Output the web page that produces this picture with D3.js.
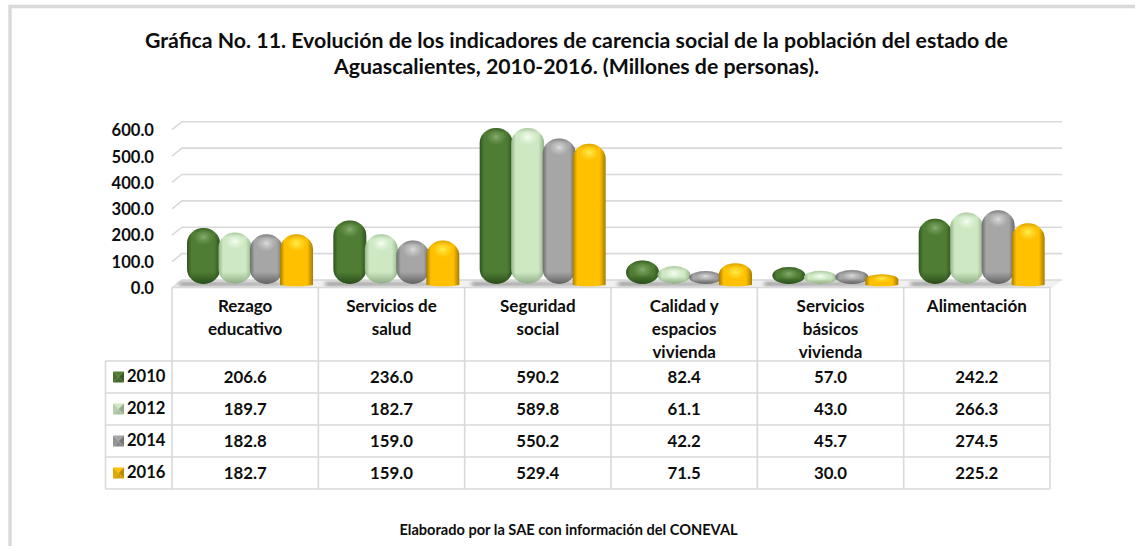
<!DOCTYPE html>
<html><head><meta charset="utf-8">
<script src="https://cdnjs.cloudflare.com/ajax/libs/d3/7.8.5/d3.min.js"></script>
<style>html,body{margin:0;padding:0;background:#fff}svg{display:block}text{font-family:Lato,"Open Sans",sans-serif;font-weight:700;fill:#0d0d0d}</style>
</head><body><div id="c"></div>
<script>
const titleLines = ["Gráfica No. 11. Evolución de los indicadores de carencia social de la población del estado de","Aguascalientes, 2010-2016. (Millones de personas)."];
const footer = "Elaborado por la SAE con información del CONEVAL";
const categories = [["Rezago","educativo"],["Servicios de","salud"],["Seguridad","social"],["Calidad y","espacios","vivienda"],["Servicios","básicos","vivienda"],["Alimentación"]];
const years = ["2010","2012","2014","2016"];
const v2010 = [206.6,236.0,590.2,82.4,57.0,242.2];
const v2012 = [189.7,182.7,589.8,61.1,43.0,266.3];
const v2014 = [182.8,159.0,550.2,42.2,45.7,274.5];
const v2016 = [182.7,159.0,529.4,71.5,30.0,225.2];
const seriesValues = [v2010,v2012,v2014,v2016];
const yTicks = [0,100,200,300,400,500,600];
const palette = [
 {edge:"#2f5521",mid:"#4f7d33",hi:"#86ae70",dark:"#274a1b"},
 {edge:"#95b48b",mid:"#cde8c2",hi:"#f6fff2",dark:"#8aa881"},
 {edge:"#6c6c6c",mid:"#a6a6a6",hi:"#dcdcdc",dark:"#5e5e5e"},
 {edge:"#a67c00",mid:"#ffc000",hi:"#fff050",dark:"#b88a00"}];

const W=1135,H=546;
const svg=d3.select("#c").append("svg").attr("width",W).attr("height",H);
const defs=svg.append("defs");
const grid="#d9d9d9";

// frame
svg.append("path").attr("d","M10,546V6.5H1135").attr("fill","none").attr("stroke",grid).attr("stroke-width",3.4);

// title
svg.append("g").selectAll("text").data(titleLines).join("text")
 .attr("x",576.5).attr("y",(d,i)=>47.5+i*26).attr("text-anchor","middle").attr("font-size",21.3).text(d=>d);

// scales
const tableX=d3.scaleBand().domain(d3.range(categories.length)).range([172,1050]);
const barX=d3.scaleBand().domain(d3.range(categories.length)).range([177,1055]);
const inner=d3.scaleBand().domain(years).range([10,136]);
const yBar=d3.scaleLinear().domain([0,600]).range([282,125.4]);
const yGrid=d3.scaleLinear().domain([0,600]).range([280,121.7]);
const yLabel=d3.scaleLinear().domain([0,600]).range([288,130.5]);
const depthX=10,depthY=8;

// floor
svg.append("path").attr("d",`M172,${yGrid(0)+depthY}L182,${yGrid(0)}H1062L1052,${yGrid(0)+depthY}Z`).attr("fill","#f1f1f1");
defs.append("filter").attr("id","blur").attr("x","-20%").attr("y","-100%").attr("width","140%").attr("height","300%")
 .append("feGaussianBlur").attr("stdDeviation","2 1");
const sg=defs.append("linearGradient").attr("id","shadow");
sg.append("stop").attr("offset","0").attr("stop-color","#a8a8a8").attr("stop-opacity",.95);
sg.append("stop").attr("offset","0.75").attr("stop-color","#b5b5b5").attr("stop-opacity",.85);
sg.append("stop").attr("offset","1").attr("stop-color","#c8c8c8").attr("stop-opacity",.2);

// gridlines
svg.append("g").selectAll("path").data(yTicks).join("path")
 .attr("d",d=>`M172,${yGrid(d)+depthY}L182,${yGrid(d)}H1062`)
 .attr("fill","none").attr("stroke",grid).attr("stroke-width",1.6);

// y labels
svg.append("g").selectAll("text").data(yTicks).join("text")
 .attr("x",154).attr("y",d=>yLabel(d)).attr("dy","0.35em").attr("text-anchor","end").attr("font-size",16.6)
 .text(d=>d3.format(".1f")(d));

// shadows on the floor
svg.append("g").selectAll("rect").data(categories).join("rect")
 .attr("x",(d,i)=>barX(i)+2).attr("y",281.5).attr("width",barX.bandwidth()-18).attr("height",5)
 .attr("fill","url(#shadow)").attr("filter","url(#blur)");

// horizontal gradients
palette.forEach((p,i)=>{
 const g=defs.append("linearGradient").attr("id","h"+i);
 [[0,p.edge],[.14,p.mid],[.82,p.mid],[1,p.edge]].forEach(s=>g.append("stop").attr("offset",s[0]).attr("stop-color",s[1]));
 const r=defs.append("radialGradient").attr("id","r"+i);
 r.append("stop").attr("offset",0).attr("stop-color",p.hi).attr("stop-opacity",1);
 r.append("stop").attr("offset",.35).attr("stop-color",p.hi).attr("stop-opacity",.55);
 r.append("stop").attr("offset",1).attr("stop-color",p.hi).attr("stop-opacity",0);
});

// bars
const barW=inner.bandwidth()+1.5;
const barBottom=284,flatBottom=285;
function capShape(x,y,w,bottom,ry,flat){
 const r=w/2;
 if(flat) return `M${x},${bottom}V${y+ry}A${r},${ry} 0 0 1 ${x+w},${y+ry}V${bottom}Q${x+w/2},${bottom+3} ${x},${bottom}Z`;
 return `M${x},${bottom-ry}V${y+ry}A${r},${ry} 0 0 1 ${x+w},${y+ry}V${bottom-ry}A${r},${ry} 0 0 1 ${x},${bottom-ry}Z`;
}
const barsG=svg.append("g");
years.forEach((yr,si)=>{
 const p=palette[si],flat=si===3;
 seriesValues[si].forEach((v,ci)=>{
  const x=barX(ci)+inner(yr)-(si===3?1.5:0),y=yBar(v),bottom=flat?flatBottom:barBottom;
  const h=bottom-y,ry=flat?Math.min(15,h*0.5):Math.min(15,h/2);
  const d=capShape(x,y,barW,bottom,ry,flat);
  const id=`v${si}_${ci}`;
  const vg=defs.append("linearGradient").attr("id",id).attr("x1",0).attr("x2",0).attr("y1",0).attr("y2",1);
  const ft=Math.min(.45,5/h),fb=Math.min(.45,ry*.8/h);
  vg.append("stop").attr("offset",0).attr("stop-color",p.dark).attr("stop-opacity",.45);
  vg.append("stop").attr("offset",ft).attr("stop-color",p.dark).attr("stop-opacity",0);
  vg.append("stop").attr("offset",flat?1:1-fb).attr("stop-color",p.dark).attr("stop-opacity",0);
  if(!flat) vg.append("stop").attr("offset",1).attr("stop-color",p.dark).attr("stop-opacity",.95);
  const g=barsG.append("g");
  g.append("path").attr("d",d).attr("fill",`url(#h${si})`);
  g.append("path").attr("d",d).attr("fill",`url(#${id})`);
  g.append("ellipse").attr("cx",x+barW*.5).attr("cy",y+Math.min(9,h*.4)).attr("rx",barW*.3).attr("ry",Math.min(8,h*.35)).attr("fill",`url(#r${si})`);
 });
});

// table
const rowY=[361,393,425,457,489];
const tableTop=287.5,tableLeft=105.5,tableRight=1050;
const t=svg.append("g").attr("stroke",grid).attr("stroke-width",1.6);
t.append("line").attr("x1",172).attr("x2",tableRight).attr("y1",tableTop).attr("y2",tableTop);
t.selectAll(".r").data(rowY).join("line").attr("class","r").attr("x1",tableLeft).attr("x2",tableRight).attr("y1",d=>d).attr("y2",d=>d);
t.selectAll(".c").data(d3.range(categories.length+1)).join("line").attr("class","c")
 .attr("x1",i=>i<categories.length?tableX(i):tableRight).attr("x2",i=>i<categories.length?tableX(i):tableRight)
 .attr("y1",tableTop).attr("y2",489);
t.append("line").attr("x1",tableLeft).attr("x2",tableLeft).attr("y1",361).attr("y2",489);

// category labels
categories.forEach((lines,ci)=>{
 svg.append("g").selectAll("text").data(lines).join("text")
  .attr("x",tableX(ci)+tableX.bandwidth()/2).attr("y",(d,i)=>306+i*23).attr("dy","0.35em")
  .attr("text-anchor","middle").attr("font-size",17).text(d=>d);
});

// rows
years.forEach((yr,si)=>{
 const cy=(rowY[si]+rowY[si+1])/2;
 const p=palette[si];
 const x0=113,x1=124,y0=cy-5.5,y1=cy+5.5,mx=(x0+x1)/2,my=cy;
 const tris=[[`${x0},${y0} ${x1},${y0} ${mx},${my}`,p.mid],[`${x0},${y0} ${x0},${y1} ${mx},${my}`,d3.color(p.mid).darker(.35)],
  [`${x1},${y0} ${x1},${y1} ${mx},${my}`,d3.color(p.mid).darker(.9)],[`${x0},${y1} ${x1},${y1} ${mx},${my}`,d3.color(p.mid).darker(.5)]];
 svg.append("g").selectAll("polygon").data(tris).join("polygon").attr("points",d=>d[0]).attr("fill",d=>d[1]);
 svg.append("text").attr("x",127).attr("y",cy-.5).attr("dy","0.35em").attr("font-size",16.6).text(yr);
 svg.append("g").selectAll("text").data(seriesValues[si]).join("text")
  .attr("x",(d,i)=>tableX(i)+tableX.bandwidth()/2).attr("y",cy).attr("dy","0.35em")
  .attr("text-anchor","middle").attr("font-size",16.8).text(d=>d3.format(".1f")(d));
});

// footer
svg.append("text").attr("x",568.5).attr("y",529.5).attr("dy","0.35em").attr("text-anchor","middle").attr("font-size",14.6).text(footer);
</script></body></html>
